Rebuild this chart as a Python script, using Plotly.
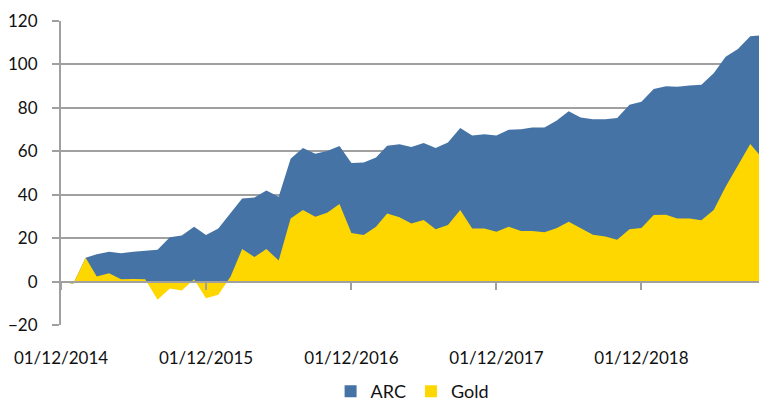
import pandas as pd
import plotly.graph_objects as go

months = pd.date_range("2014-12-01", periods=59, freq="MS")

arc = [0, -1, 11.0, 12.6, 13.7, 13.0, 13.7, 14.0, 14.6, 20.4,
       21.2, 25.2, 21.5, 24.4, 31.4, 38.3, 38.7, 41.9, 39.1, 56.6,
       61.5, 58.9, 60.1, 62.4, 54.6, 54.8, 57.1, 62.6, 63.2, 62.0,
       63.8, 61.5, 64.0, 70.7, 67.3, 67.8, 67.3, 69.9, 70.2, 71.0,
       71.0, 74.1, 78.4, 75.6, 74.7, 74.8, 75.3, 81.4, 82.8, 88.7,
       90.0, 89.7, 90.3, 90.6, 95.9, 103.5, 107.1, 113.0, 113.4]

gold = [0, -1, 11.0, 2.3, 3.8, 1.1, 1.2, 1.1, -8.4, -3.2,
        -4.1, 1.1, -7.7, -6.1, 2.3, 15.0, 11.3, 15.0, 9.7, 29.0,
        33.0, 29.8, 31.7, 35.7, 22.4, 21.5, 25.3, 31.3, 29.6, 26.8,
        28.4, 24.1, 26.1, 33.0, 24.4, 24.4, 23.0, 25.3, 23.3, 23.3,
        22.7, 24.5, 27.5, 24.5, 21.6, 20.7, 19.3, 24.1, 24.7, 30.7,
        30.8, 29.0, 29.0, 28.2, 33.0, 43.7, 53.7, 63.3, 56.9]

y_ticks = [-20, 0, 20, 40, 60, 80, 100, 120]

BLUE = "#4673A6"
GOLD = "#FFD700"
GRID = "#A0A0A0"
FONT = dict(family="Lato, 'Open Sans', sans-serif", size=17, color="#111111")
LEGEND_FONT = dict(family="Lato, 'Open Sans', sans-serif", size=18, color="#111111")

fig = go.Figure()
fig.add_trace(go.Scatter(x=months, y=arc, name="ARC", mode="lines",
                         line=dict(width=0, color=BLUE), fill="tozeroy",
                         fillcolor=BLUE, hoverinfo="skip", showlegend=False))
fig.add_trace(go.Scatter(x=months, y=gold, name="Gold", mode="lines",
                         line=dict(width=0, color=GOLD), fill="tozeroy",
                         fillcolor=GOLD, hoverinfo="skip", showlegend=False))
# legend entries with square keys
for name, col in (("ARC", BLUE), ("Gold", GOLD)):
    fig.add_trace(go.Scatter(x=[None], y=[None], name=name, mode="markers",
                             marker=dict(symbol="square", size=12, color=col),
                             hoverinfo="skip"))
# carrier trace for the zero-line axis
fig.add_trace(go.Scatter(x=months, y=[None] * len(months), xaxis="x2",
                         mode="none", showlegend=False, hoverinfo="skip"))

rng = ["2014-12-01", "2019-09-23"]
fig.update_layout(
    width=759, height=410,
    margin=dict(l=61, r=0, t=21, b=85, autoexpand=False),
    paper_bgcolor="white", plot_bgcolor="white",
    font=FONT,
    showlegend=True,
    legend=dict(orientation="h", x=0.503, xanchor="center", y=-0.2796,
                yanchor="bottom", font=LEGEND_FONT, itemwidth=30,
                tracegroupgap=0, bgcolor="rgba(0,0,0,0)"),
    xaxis=dict(range=rng, type="date", tick0="2014-12-01", dtick="M12",
               tickformat="%d/%m/%Y", showgrid=False, zeroline=False,
               showline=False, ticks="", tickfont=FONT, automargin=False,
               ticklabelstandoff=21),
    xaxis2=dict(overlaying="x", matches="x", anchor="free",
                position=20 / 140, type="date", tick0="2014-12-01",
                dtick="M12", showgrid=False, zeroline=False,
                showline=True, linecolor=GRID, linewidth=2,
                ticks="outside", ticklen=7, tickwidth=2, tickcolor=GRID,
                showticklabels=False, layer="above traces", automargin=False),
    yaxis=dict(range=[-20, 120], tickvals=y_ticks, showgrid=True,
               gridcolor=GRID, gridwidth=2, zeroline=False,
               showline=True, linecolor=GRID, linewidth=2,
               ticks="outside", ticklen=7, tickwidth=2, tickcolor=GRID,
               tickfont=FONT, ticklabelstandoff=11, layer="above traces",
               automargin=False),
)

fig.write_html("out.html", config={"displayModeBar": False},
               post_script="document.body.style.margin='0';")
